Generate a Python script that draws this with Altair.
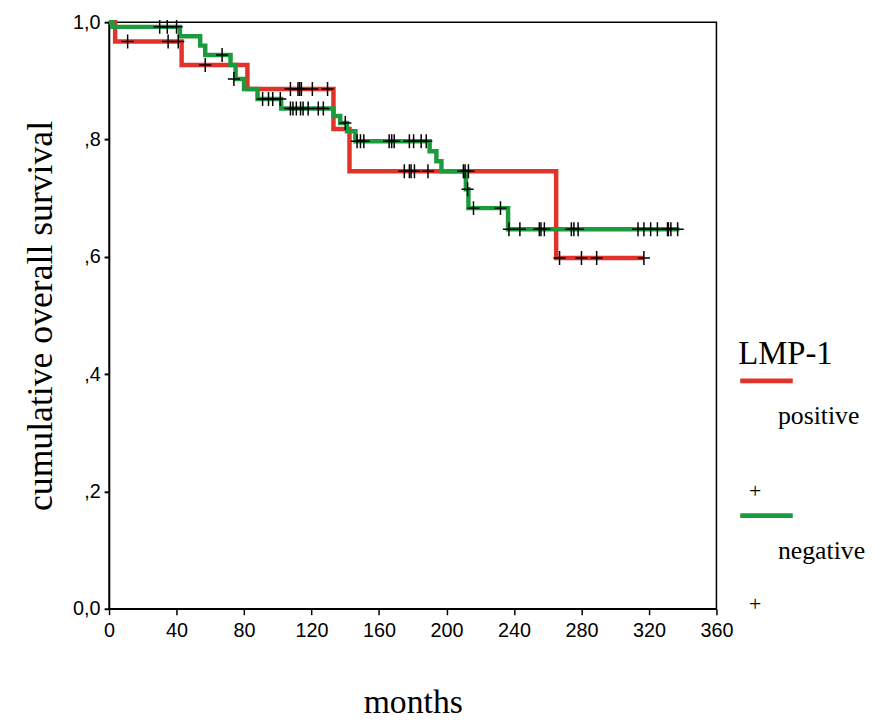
import altair as alt
import pandas as pd

# ---- data ----
groups = ["positive", "negative"]
colors = ["#e2332b", "#1c9a3e"]

pos_time = [0, 3.6, 43, 82, 133, 142.5, 265, 317]
pos_surv = [1.0, 0.967, 0.927, 0.886, 0.818, 0.746, 0.598, 0.598]

neg_time = [0, 2, 42, 54, 57, 72, 75, 80, 88, 102, 133, 137, 141, 146,
            190, 194, 197, 211.5, 213, 236.5, 338]
neg_surv = [1.0, 0.992, 0.976, 0.960, 0.944, 0.927, 0.903, 0.886, 0.869, 0.853,
            0.840, 0.828, 0.814, 0.797, 0.780, 0.763, 0.746, 0.715, 0.683, 0.647, 0.647]

pos_cens_time = [11, 35, 41, 57, 107.5, 112, 113, 114, 120.5, 129.5,
                 175, 178, 179, 181, 189, 210, 213, 267, 280, 289, 317]
pos_cens_surv = [0.967, 0.967, 0.967, 0.927, 0.886, 0.886, 0.886, 0.886, 0.886, 0.886,
                 0.746, 0.746, 0.746, 0.746, 0.746, 0.746, 0.746, 0.598, 0.598, 0.598, 0.598]

neg_cens_time = [30, 34.5, 40, 67, 74, 91, 94.5, 97, 101.5,
                 107.5, 109, 111, 113.5, 115, 118, 124, 127, 140,
                 147, 149, 151, 166, 167.5, 169, 178, 180.5, 185, 188,
                 211, 212.5, 216, 232,
                 237, 243.5, 255, 256, 258, 274, 275.5, 278, 313.5, 317, 321, 325,
                 331, 331.5, 333, 337]
neg_cens_surv = [0.992, 0.992, 0.992, 0.944, 0.903, 0.869, 0.869, 0.869, 0.869,
                 0.853, 0.853, 0.853, 0.853, 0.853, 0.853, 0.853, 0.853, 0.828,
                 0.797, 0.797, 0.797, 0.797, 0.797, 0.797, 0.797, 0.797, 0.797, 0.797,
                 0.746, 0.715, 0.683, 0.683,
                 0.647, 0.647, 0.647, 0.647, 0.647, 0.647, 0.647, 0.647, 0.647, 0.647,
                 0.647, 0.647, 0.647, 0.647, 0.647, 0.647]

x_ticks = list(range(0, 361, 20))
y_ticks = [0.0, 0.2, 0.4, 0.6, 0.8, 1.0]
legend_title = "LMP-1"

# ---- tables ----
curves = pd.concat([
    pd.DataFrame({"t": pos_time, "s": pos_surv, "g": groups[0], "o": 0}),
    pd.DataFrame({"t": neg_time, "s": neg_surv, "g": groups[1], "o": 1}),
])
cens = pd.concat([
    pd.DataFrame({"t": pos_cens_time, "s": pos_cens_surv, "g": groups[0]}),
    pd.DataFrame({"t": neg_cens_time, "s": neg_cens_surv, "g": groups[1]}),
])

W, H = 613, 592
serif = "Liberation Serif"
sans = "Liberation Sans"

xs = alt.Scale(domain=[0, 360], nice=False, zero=False)
ys = alt.Scale(domain=[0, 1], nice=False)

x_axis = alt.Axis(values=x_ticks, labelExpr="datum.value % 40 == 0 ? datum.label : ''",
                  grid=False, tickSize=6, tickColor="black", tickWidth=1.5,
                  domainColor="black", domainWidth=1.5, labelFont=sans, labelFontSize=20,
                  labelColor="black", labelPadding=6, title="months", titleFont=serif,
                  titleFontSize=34, titleFontWeight="normal", titleColor="black",
                  titlePadding=46, labelFlush=False)
y_axis = alt.Axis(values=y_ticks,
                  labelExpr="datum.value == 0 ? '0,0' : (datum.value == 1 ? '1,0' : ',' + round(datum.value * 10))",
                  grid=False, tickSize=5, tickColor="black", tickWidth=2,
                  domainColor="black", domainWidth=1.5, labelFont=sans, labelFontSize=20,
                  labelColor="black", labelPadding=4, title="cumulative overall survival",
                  titleFont=serif, titleFontSize=36, titleFontWeight="normal",
                  titleColor="black", titlePadding=13, labelFlush=False)

color_scale = alt.Scale(domain=groups, range=colors)

lines = alt.Chart(curves).mark_line(interpolate="step-after", strokeWidth=4.5).encode(
    x=alt.X("t:Q", scale=xs, axis=x_axis),
    y=alt.Y("s:Q", scale=ys, axis=y_axis),
    color=alt.Color("g:N", scale=color_scale, legend=None),
    detail="g:N",
    order="o:Q",
)

crosses = alt.Chart(cens).mark_point(
    shape="M-1,0H1M0,-1.15V1.15", size=150, filled=False, stroke="black", strokeWidth=1.5,
    opacity=1,
).encode(x=alt.X("t:Q", scale=xs), y=alt.Y("s:Q", scale=ys))

# ---- legend drawn by hand ----
one = pd.DataFrame({"k": [0]})
leg_title = alt.Chart(pd.DataFrame({"txt": [legend_title]})).mark_text(
    font=serif, fontSize=33, align="left", baseline="alphabetic", color="black"
).encode(x=alt.value(635), y=alt.value(345), text="txt:N")

leg_parts = []
for i, (g, c) in enumerate(zip(groups, colors)):
    dy = i * 136
    leg_parts.append(alt.Chart(one).mark_rule(color=c, strokeWidth=5).encode(
        x=alt.value(637), x2=alt.value(690), y=alt.value(362 + dy)))
    leg_parts.append(alt.Chart(pd.DataFrame({"txt": [g]})).mark_text(
        font=serif, fontSize=26, align="left", baseline="alphabetic", color="black"
    ).encode(x=alt.value(675), y=alt.value(406 + dy), text="txt:N"))
    leg_parts.append(alt.Chart(pd.DataFrame({"txt": ["+"]})).mark_text(
        font=serif, fontSize=22, align="center", baseline="middle", color="black"
    ).encode(x=alt.value(652), y=alt.value(473 + dy - (dy and 22)), text="txt:N"))

chart = alt.layer(lines, crosses, leg_title, *leg_parts).properties(
    width=W, height=H,
    autosize=alt.AutoSizeParams(type="none"),
    padding={"left": 102, "top": 11, "right": 158, "bottom": 112},
).configure(
    background="white",
    view=alt.ViewConfig(stroke="black", strokeWidth=1.5),
)

chart.save("out.html", embed_options={"renderer": "svg", "actions": False})
